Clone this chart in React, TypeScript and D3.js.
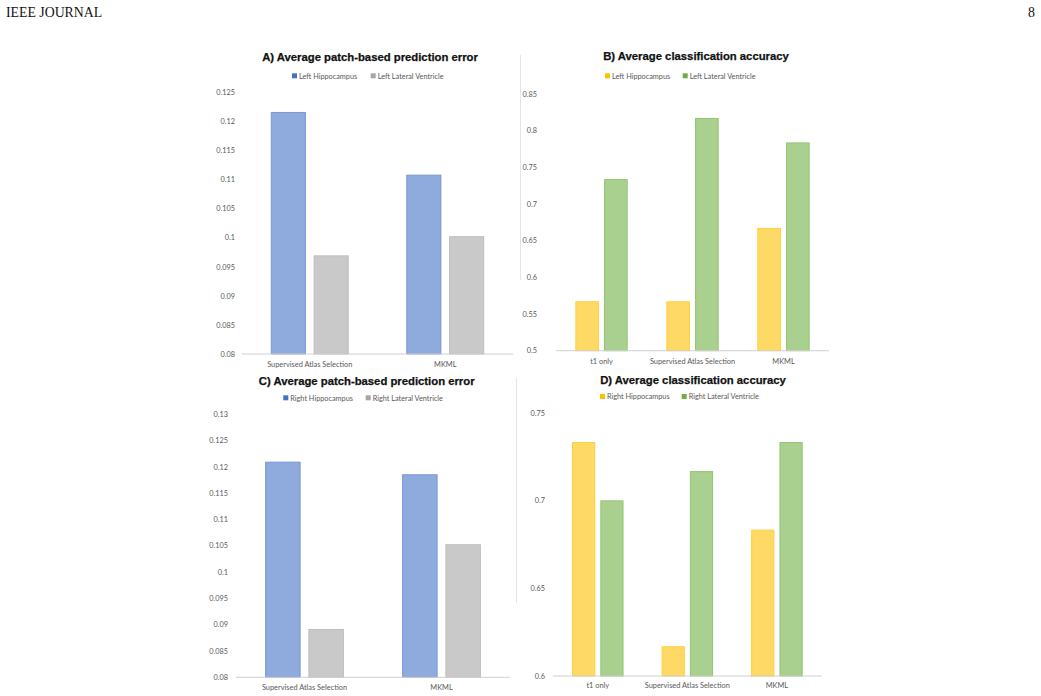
import * as d3 from "d3";

// Categories per panel
const errorCategories = ["Supervised Atlas Selection", "MKML"];
const accuracyCategories = ["t1 only", "Supervised Atlas Selection", "MKML"];

// A) left structures, patch-based prediction error
const leftHippoError = [0.1216, 0.1108];
const leftVentricleError = [0.0969, 0.1002];

// B) left structures, classification accuracy
const leftHippoAcc = [0.5667, 0.5667, 0.6667];
const leftVentricleAcc = [0.7333, 0.8167, 0.7833];

// C) right structures, patch-based prediction error
const rightHippoError = [0.1209, 0.1185];
const rightVentricleError = [0.0891, 0.1052];

// D) right structures, classification accuracy
const rightHippoAcc = [0.7333, 0.6167, 0.6833];
const rightVentricleAcc = [0.7, 0.7167, 0.7333];

// y tick labels
const ticksA = [0.08, 0.085, 0.09, 0.095, 0.1, 0.105, 0.11, 0.115, 0.12, 0.125];
const ticksB = [0.5, 0.55, 0.6, 0.65, 0.7, 0.75, 0.8, 0.85];
const ticksC = [0.08, 0.085, 0.09, 0.095, 0.1, 0.105, 0.11, 0.115, 0.12, 0.125, 0.13];
const ticksD = [0.6, 0.65, 0.7, 0.75];

const BLUE = { fill: "#8faadc", stroke: "#7897d4", key: "#4472c4" };
const GRAY = { fill: "#c9c9c9", stroke: "#bdbdbd", key: "#a5a5a5" };
const YELLOW = { fill: "#ffd966", stroke: "#ffcf3a", key: "#ffc000" };
const GREEN = { fill: "#a9d08e", stroke: "#93c473", key: "#70ad47" };

const smallFont = "Lato, 'Open Sans', sans-serif";
const titleFont = "'Liberation Sans', Arial, sans-serif";

interface Series {
  name: string;
  values: number[];
  color: { fill: string; stroke: string; key: string };
}

interface PanelProps {
  title: string;
  titleX: number;
  titleY: number;
  categories: string[];
  series: Series[];
  ticks: number[];
  x0: number;
  x1: number;
  yTop: number;
  yBottom: number;
  labelX: number;
  legendY: number;
  legendX: number[];
  catY: number;
}

function Panel(p: PanelProps) {
  const y = d3
    .scaleLinear()
    .domain([p.ticks[0], p.ticks[p.ticks.length - 1]])
    .range([p.yBottom, p.yTop]);

  // Excel-like spacing: group gap ~164% of bar width, small gap between bars
  const outer = d3
    .scaleBand<string>()
    .domain(p.categories)
    .range([p.x0, p.x1])
    .paddingInner(0.425)
    .paddingOuter(0.2125);

  const inner = d3
    .scaleBand<number>()
    .domain(d3.range(p.series.length))
    .range([0, outer.bandwidth()])
    .paddingInner(0.18);

  return (
    <g>
      <text
        x={p.titleX}
        y={p.titleY}
        textAnchor="middle"
        fontFamily={titleFont}
        fontWeight="bold"
        fontSize={11.3}
        fill="#111"
        stroke="#111"
        strokeWidth={0.25}
      >
        {p.title}
      </text>

      {p.series.map((s, i) => (
        <g key={s.name} transform={`translate(${p.legendX[i]},${p.legendY})`}>
          <rect x={0} y={-2.7} width={5} height={5} fill={s.color.key} />
          <text x={7} y={2.6} fontFamily={smallFont} fontSize={7.3} fill="#595959">
            {s.name}
          </text>
        </g>
      ))}

      {p.ticks.map((t) => (
        <text
          key={t}
          x={p.labelX}
          y={y(t) + 2.6}
          textAnchor="end"
          fontFamily={smallFont}
          fontSize={7.3}
          fill="#595959"
        >
          {String(+t.toFixed(3))}
        </text>
      ))}

      {p.categories.map((c, ci) => (
        <g key={c} transform={`translate(${outer(c)},0)`}>
          {p.series.map((s, si) => (
            <rect
              key={s.name}
              x={(inner(si) ?? 0) + 0.5}
              y={y(s.values[ci])}
              width={inner.bandwidth() - 1}
              height={p.yBottom - y(s.values[ci])}
              fill={s.color.fill}
              stroke={s.color.stroke}
              strokeWidth={1}
            />
          ))}
        </g>
      ))}

      <line
        x1={p.x0}
        x2={p.x1}
        y1={p.yBottom}
        y2={p.yBottom}
        stroke="#d0d0d0"
        strokeWidth={1}
      />

      {p.categories.map((c) => (
        <text
          key={c}
          x={(outer(c) ?? 0) + outer.bandwidth() / 2}
          y={p.catY}
          textAnchor="middle"
          fontFamily={smallFont}
          fontSize={7.4}
          fill="#595959"
        >
          {c}
        </text>
      ))}
    </g>
  );
}

export default function App() {
  return (
    <svg
      width={1041}
      height={696}
      style={{ position: "absolute", left: 0, top: 0, background: "#fff" }}
    >
      <text x={6} y={17} fontFamily="'Liberation Serif', serif" fontSize={13.8} fill="#111">
        IEEE JOURNAL
      </text>
      <text x={1035} y={17} textAnchor="end" fontFamily="'Liberation Serif', serif" fontSize={13.8} fill="#111">
        8
      </text>

      {/* faint chart borders between panels */}
      <line x1={520.5} x2={520.5} y1={55} y2={280} stroke="#e4e4e4" strokeWidth={1} />
      <line x1={516.5} x2={516.5} y1={378} y2={603} stroke="#e4e4e4" strokeWidth={1} />

      <Panel
        title="A) Average patch-based prediction error"
        titleX={370}
        titleY={61}
        categories={errorCategories}
        series={[
          { name: "Left Hippocampus", values: leftHippoError, color: BLUE },
          { name: "Left Lateral Ventricle", values: leftVentricleError, color: GRAY },
        ]}
        ticks={ticksA}
        x0={242}
        x1={513}
        yTop={92.7}
        yBottom={354}
        labelX={235}
        legendY={76}
        legendX={[292, 370.7]}
        catY={367}
      />
      <Panel
        title="B) Average classification accuracy"
        titleX={696}
        titleY={60}
        categories={accuracyCategories}
        series={[
          { name: "Left Hippocampus", values: leftHippoAcc, color: YELLOW },
          { name: "Left Lateral Ventricle", values: leftVentricleAcc, color: GREEN },
        ]}
        ticks={ticksB}
        x0={556}
        x1={829}
        yTop={94}
        yBottom={350.7}
        labelX={537}
        legendY={76}
        legendX={[605, 682.7]}
        catY={363.5}
      />
      <Panel
        title="C) Average patch-based prediction error"
        titleX={366.7}
        titleY={384.5}
        categories={errorCategories}
        series={[
          { name: "Right Hippocampus", values: rightHippoError, color: BLUE },
          { name: "Right Lateral Ventricle", values: rightVentricleError, color: GRAY },
        ]}
        ticks={ticksC}
        x0={236}
        x1={510}
        yTop={414.3}
        yBottom={677.3}
        labelX={228}
        legendY={398}
        legendX={[283.3, 365.7]}
        catY={689.5}
      />
      <Panel
        title="D) Average classification accuracy"
        titleX={693}
        titleY={383.8}
        categories={accuracyCategories}
        series={[
          { name: "Right Hippocampus", values: rightHippoAcc, color: YELLOW },
          { name: "Right Lateral Ventricle", values: rightVentricleAcc, color: GREEN },
        ]}
        ticks={ticksD}
        x0={553}
        x1={821.7}
        yTop={413.3}
        yBottom={676}
        labelX={545}
        legendY={396.7}
        legendX={[600, 681.7]}
        catY={688}
      />
    </svg>
  );
}
